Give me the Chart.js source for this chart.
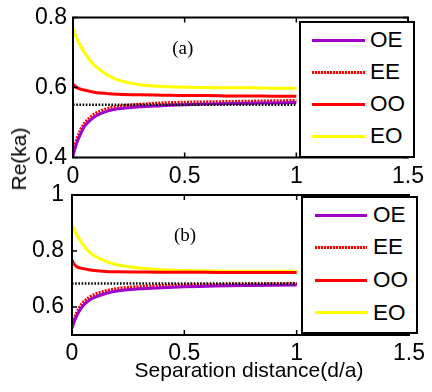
<!DOCTYPE html>
<html><head><meta charset="utf-8">
<script src="https://cdn.jsdelivr.net/npm/chart.js@4.4.0/dist/chart.umd.min.js"></script>
<style>
html,body{margin:0;padding:0;background:#fff;}
#wrap{position:relative;width:432px;height:392px;overflow:hidden;background:#fff;font-family:'Liberation Sans',Arial,sans-serif;color:#000;}
canvas{position:absolute;left:0;}
#cA{top:0;}
#cB{top:172px;}
.lg{position:absolute;background:#fff;border:2px solid #000;box-sizing:border-box;}
.sw{position:absolute;height:3px;}
.tx{position:absolute;font-size:22.5px;line-height:22px;white-space:nowrap;}
.lbl{position:absolute;white-space:nowrap;transform:translate(-50%,-50%);}
</style>
</head><body>
<div id="wrap">
<canvas id="cA" width="432" height="188"></canvas>
<canvas id="cB" width="432" height="220"></canvas>
</div>
<script>
// ---------------- data ----------------
const xValues = [0, 0.01, 0.02, 0.03, 0.05, 0.075, 0.1, 0.15, 0.2, 0.3, 0.4, 0.5, 0.6, 0.7, 0.8, 0.9, 1.0];
const refX = [0, 1];
const seriesNames = ['OE', 'EE', 'OO', 'EO'];

// panel (a)
const a_OE = [0.405, 0.428, 0.447, 0.462, 0.488, 0.505, 0.518, 0.532, 0.539, 0.545, 0.548, 0.551, 0.553, 0.554, 0.555, 0.556, 0.557];
const a_EE = [0.410, 0.437, 0.458, 0.474, 0.497, 0.514, 0.526, 0.539, 0.546, 0.552, 0.556, 0.558, 0.559, 0.560, 0.561, 0.562, 0.563];
const a_OO = [0.609, 0.603, 0.599, 0.596, 0.593, 0.589, 0.586, 0.583, 0.581, 0.579, 0.578, 0.577, 0.577, 0.576, 0.576, 0.575, 0.575];
const a_EO = [0.766, 0.750, 0.736, 0.723, 0.701, 0.678, 0.661, 0.637, 0.622, 0.608, 0.603, 0.601, 0.600, 0.599, 0.599, 0.598, 0.598];
const a_ref = [0.551, 0.551];

// panel (b)
const b_OE = [0.525, 0.548, 0.567, 0.582, 0.605, 0.623, 0.634, 0.648, 0.657, 0.665, 0.669, 0.672, 0.674, 0.676, 0.677, 0.678, 0.679];
const b_EE = [0.532, 0.558, 0.578, 0.594, 0.617, 0.634, 0.645, 0.658, 0.666, 0.673, 0.677, 0.679, 0.680, 0.681, 0.682, 0.683, 0.684];
const b_OO = [0.768, 0.752, 0.745, 0.741, 0.737, 0.733, 0.730, 0.727, 0.726, 0.725, 0.724, 0.724, 0.724, 0.723, 0.723, 0.723, 0.723];
const b_EO = [0.894, 0.876, 0.860, 0.846, 0.822, 0.798, 0.783, 0.763, 0.751, 0.739, 0.733, 0.730, 0.729, 0.728, 0.728, 0.728, 0.728];
const b_ref = [0.684, 0.684];

const xTicks = [0, 0.5, 1, 1.5];
const yTicksA = [0.4, 0.6, 0.8];
const yTicksB = [0.6, 0.8, 1];
const panelLabels = ['(a)', '(b)'];
const xTitle = 'Separation distance(d/a)';
const yTitle = 'Re(ka)';

// ---------------- styles ----------------
const seriesStyle = {
  OE: {color: '#a000c8', dash: [], width: 3},
  EE: {color: '#ff0000', dash: [2, 1.2], width: 3},
  OO: {color: '#ff0000', dash: [], width: 3},
  EO: {color: '#ffff00', dash: [], width: 3}
};
const FONT = "'Liberation Sans', Arial, sans-serif";

function pts(xs, ys) { return xs.map((x, i) => ({x: x, y: ys[i]})); }

function makeDatasets(vals, ref) {
  const ds = [{
    label: 'ref', data: pts(refX, ref), borderColor: '#000', borderWidth: 2.5,
    borderDash: [1.6, 1.6], pointRadius: 0, fill: false
  }];
  seriesNames.forEach((n, i) => {
    const s = seriesStyle[n];
    ds.push({
      label: n, data: pts(xValues, vals[i]), borderColor: s.color, borderWidth: s.width,
      borderDash: s.dash, pointRadius: 0, fill: false, cubicInterpolationMode: 'monotone'
    });
  });
  return ds;
}

const boxPlugin = {
  id: 'boxTicks',
  afterDraw(chart) {
    const {ctx, chartArea: a, scales} = chart;
    ctx.save();
    ctx.strokeStyle = '#000';
    ctx.lineWidth = 1.5;
    ctx.setLineDash([]);
    const L = 5;
    ctx.beginPath();
    scales.x.ticks.forEach(t => {
      const p = scales.x.getPixelForValue(t.value);
      ctx.moveTo(p, a.bottom); ctx.lineTo(p, a.bottom - L);
      ctx.moveTo(p, a.top); ctx.lineTo(p, a.top + L);
    });
    scales.y.ticks.forEach(t => {
      const p = scales.y.getPixelForValue(t.value);
      ctx.moveTo(a.left, p); ctx.lineTo(a.left + L, p);
      ctx.moveTo(a.right, p); ctx.lineTo(a.right - L, p);
    });
    ctx.stroke();
    ctx.lineWidth = 2;
    ctx.strokeRect(a.left, a.top, a.right - a.left, a.bottom - a.top);
    ctx.restore();
  }
};

function makeChart(id, vals, ref, yMin, yMax, yTicks, g) {
  return new Chart(document.getElementById(id), {
    type: 'line',
    data: {datasets: makeDatasets(vals, ref)},
    options: {
      responsive: false, animation: false, devicePixelRatio: 1,
      layout: {padding: {top: g.top, right: g.right, left: 0, bottom: 0}},
      plugins: {legend: {display: false}, tooltip: {enabled: false}},
      scales: {
        x: {
          type: 'linear', min: 0, max: 1.5,
          afterBuildTicks: s => { s.ticks = xTicks.map(v => ({value: v})); },
          afterFit: s => { s.height = g.xh; },
          grid: {display: false, drawTicks: false}, border: {display: false},
          ticks: {color: '#000', padding: g.xpad, font: {family: FONT, size: 23, lineHeight: 1}, maxRotation: 0,
                  callback: v => String(v)}
        },
        y: {
          type: 'linear', min: yMin, max: yMax,
          afterBuildTicks: s => { s.ticks = yTicks.map(v => ({value: v})); },
          afterFit: s => { s.width = g.left; },
          grid: {display: false, drawTicks: false}, border: {display: false},
          ticks: {color: '#000', padding: g.ypad, font: {family: FONT, size: 23, lineHeight: 1},
                  callback: v => String(v)}
        }
      }
    },
    plugins: [boxPlugin]
  });
}

makeChart('cA', [a_OE, a_EE, a_OO, a_EO], a_ref, 0.4, 0.8, yTicksA,
  {top: 12.5, right: 18, xh: 188 - 157.5, left: 73, xpad: 8, ypad: 6});
makeChart('cB', [b_OE, b_EE, b_OO, b_EO], b_ref, 0.5, 1.0, yTicksB,
  {top: 23, right: 17.5, xh: 220 - 163, left: 72, xpad: 7, ypad: 8});

// ---------------- legends & labels ----------------
const wrap = document.getElementById('wrap');
function addLegend(box, rows) {
  const d = document.createElement('div');
  d.className = 'lg';
  d.style.left = box.left + 'px'; d.style.top = box.top + 'px';
  d.style.width = box.w + 'px'; d.style.height = box.h + 'px';
  seriesNames.forEach((n, i) => {
    const s = seriesStyle[n];
    const sw = document.createElement('div');
    sw.className = 'sw';
    sw.style.left = rows.sx + 'px'; sw.style.width = rows.sw + 'px';
    sw.style.top = (rows.y[i] - 1.5 - 2) + 'px';
    if (s.dash.length) {
      sw.style.background = 'repeating-linear-gradient(90deg,' + s.color + ' 0 2px, rgba(255,180,180,0.6) 2px 3px)';
    } else sw.style.background = s.color;
    d.appendChild(sw);
    const t = document.createElement('div');
    t.className = 'tx'; t.textContent = n;
    t.style.left = rows.tx + 'px'; t.style.top = (rows.y[i] - 11 - 2) + 'px';
    d.appendChild(t);
  });
  wrap.appendChild(d);
}
addLegend({left: 299, top: 21, w: 116, h: 137}, {sx: 11, sw: 53, tx: 69, y: [19, 51, 83, 115]});
addLegend({left: 301, top: 196, w: 117, h: 138}, {sx: 12, sw: 52, tx: 70, y: [19, 51.3, 84, 116.7]});

function addLabel(text, x, y, css) {
  const d = document.createElement('div');
  d.className = 'lbl'; d.textContent = text;
  d.style.left = x + 'px'; d.style.top = y + 'px';
  Object.assign(d.style, css);
  wrap.appendChild(d);
}
addLabel(panelLabels[0], 182.7, 48.3, {fontFamily: "'Liberation Serif', 'Times New Roman', serif", fontSize: '19px'});
addLabel(panelLabels[1], 185, 235, {fontFamily: "'Liberation Serif', 'Times New Roman', serif", fontSize: '19px'});
addLabel(xTitle, 249, 370, {fontSize: '21px'});
addLabel(yTitle, 19, 159, {fontSize: '21px', transform: 'translate(-50%,-50%) rotate(-90deg)'});
</script>
</body></html>
